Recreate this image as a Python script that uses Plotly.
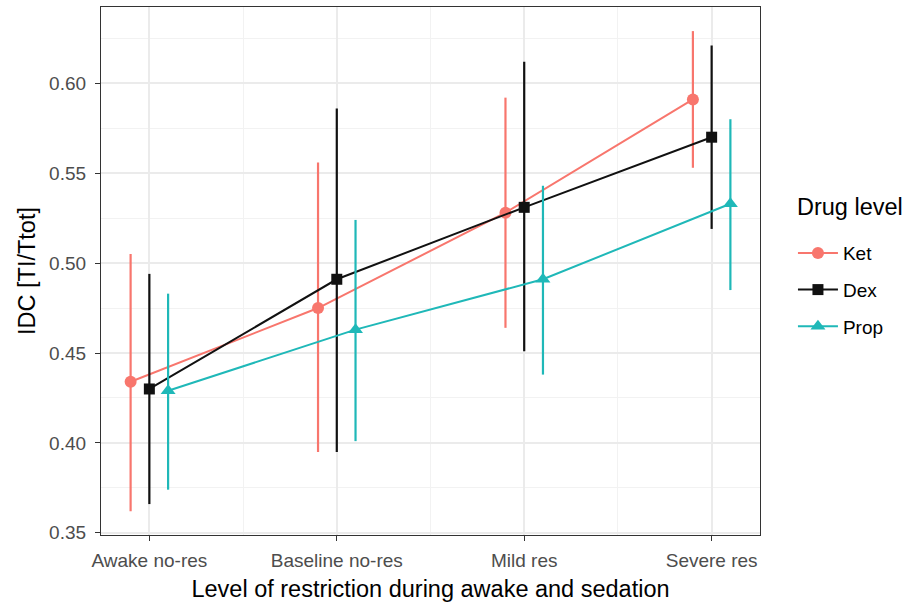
import plotly.graph_objects as go

categories = ["Awake no-res", "Baseline no-res", "Mild res", "Severe res"]

ket_mean = [0.434, 0.475, 0.528, 0.591]
ket_lo = [0.362, 0.395, 0.464, 0.553]
ket_hi = [0.505, 0.556, 0.592, 0.629]

dex_mean = [0.430, 0.491, 0.531, 0.570]
dex_lo = [0.366, 0.395, 0.451, 0.519]
dex_hi = [0.494, 0.586, 0.612, 0.621]

prop_mean = [0.429, 0.463, 0.491, 0.533]
prop_lo = [0.374, 0.401, 0.438, 0.485]
prop_hi = [0.483, 0.524, 0.543, 0.580]

y_ticks = [0.35, 0.40, 0.45, 0.50, 0.55, 0.60]

series = [
    ("Ket", ket_mean, ket_lo, ket_hi, "#F8766D", "circle", 12, -0.1),
    ("Dex", dex_mean, dex_lo, dex_hi, "#111111", "square", 11, 0.0),
    ("Prop", prop_mean, prop_lo, prop_hi, "#1FB8B8", "triangle-up", 13, 0.1),
]

FONT = "Liberation Sans, Arial, Helvetica, sans-serif"

fig = go.Figure()
for name, mean, lo, hi, color, sym, size, off in series:
    xs = [i + 1 + off for i in range(len(categories))]
    fig.add_trace(go.Scatter(
        x=xs, y=mean, name=name, mode="lines+markers", legendgroup=name,
        line=dict(color=color, width=2),
        marker=dict(color=color, symbol=sym, size=size, line=dict(width=0)),
        error_y=dict(type="data", symmetric=False,
                     array=[h - m for h, m in zip(hi, mean)],
                     arrayminus=[m - l for m, l in zip(mean, lo)],
                     color=color, thickness=2.2, width=0),
        customdata=categories,
        hovertemplate="%{customdata}: %{y:.3f}<extra>" + name + "</extra>",
    ))

fig.update_layout(
    width=903, height=602,
    margin=dict(l=101, r=143, t=7, b=67),
    paper_bgcolor="white", plot_bgcolor="white",
    font=dict(family=FONT, color="#000000"),
    showlegend=True,
    legend=dict(
        font=dict(size=19, color="#000000"),
        x=1.05, xanchor="left", y=0.57, yanchor="top",
        bgcolor="rgba(0,0,0,0)", tracegroupgap=9, itemwidth=40,
    ),
    annotations=[dict(
        text="Drug level", xref="paper", yref="paper",
        x=1.0535, y=0.6215, xanchor="left", yanchor="middle", showarrow=False,
        font=dict(size=23.5, color="#000000", family=FONT),
    )],
)

fig.update_xaxes(
    range=[0.742, 4.258], automargin=False,
    tickmode="array", tickvals=[1, 2, 3, 4], ticktext=categories,
    ticks="outside", ticklen=5, tickwidth=1.3, tickcolor="#333333",
    tickfont=dict(size=19, color="#4D4D4D", family=FONT), ticklabelstandoff=3,
    showgrid=True, gridcolor="#EBEBEB", gridwidth=2,
    minor=dict(tickvals=[1.5, 2.5, 3.5], showgrid=True, gridcolor="#F2F2F2", gridwidth=1.2, ticks=""),
    showline=True, linecolor="#333333", linewidth=1.3, mirror=True,
    zeroline=False,
    title=dict(text="Level of restriction during awake and sedation",
               font=dict(size=23.5, color="#000000", family=FONT), standoff=11),
)

fig.update_yaxes(
    range=[0.3488, 0.6424], automargin=False,
    tickmode="array", tickvals=y_ticks, ticktext=[f"{v:.2f}" for v in y_ticks],
    ticks="outside", ticklen=5, tickwidth=1.3, tickcolor="#333333",
    tickfont=dict(size=19, color="#4D4D4D", family=FONT), ticklabelstandoff=5,
    showgrid=True, gridcolor="#EBEBEB", gridwidth=2,
    minor=dict(tickvals=[0.375, 0.425, 0.475, 0.525, 0.575, 0.625], showgrid=True,
               gridcolor="#F2F2F2", gridwidth=1.2, ticks=""),
    showline=True, linecolor="#333333", linewidth=1.3, mirror=True,
    zeroline=False,
    title=dict(text="IDC [TI/Ttot]", font=dict(size=23.5, color="#000000", family=FONT), standoff=6),
)

fig.write_html("out.html")
